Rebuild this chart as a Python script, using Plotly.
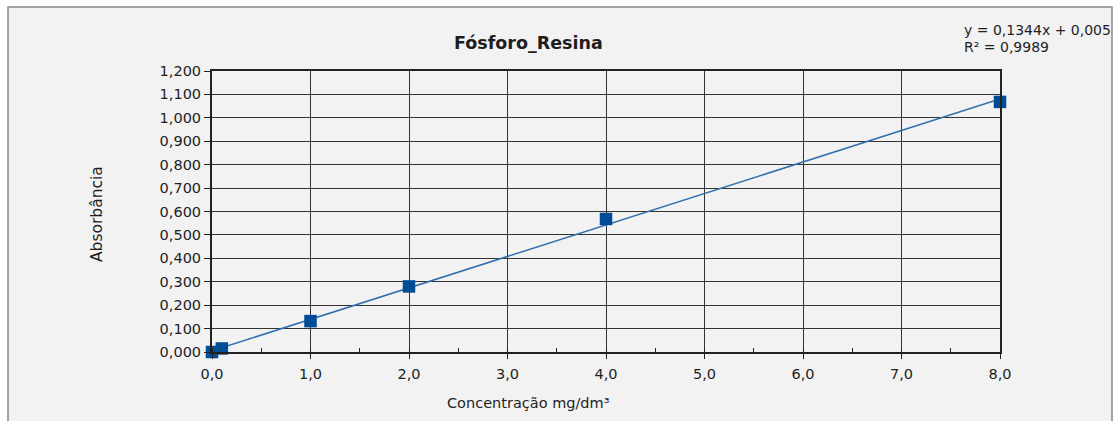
import plotly.graph_objects as go

conc = [0.0, 0.1, 1.0, 2.0, 4.0, 8.0]
absorb = [0.000, 0.015, 0.132, 0.280, 0.568, 1.068]
slope = 0.1344
intercept = 0.005
fit_x = [0.0, 8.0]
fit_y = [slope * x + intercept for x in fit_x]

title = "<b>Fósforo_Resina</b>"
eq_line1 = "y = 0,1344x + 0,005"
eq_line2 = "R² = 0,9989"
x_title = "Concentração mg/dm³"
y_title = "Absorbância"

W, H = 1115, 421
L, R, T, B = 212, 115, 71, 69
PW, PH = W - L - R, H - T - B


def px(x):
    return (x - L) / PW


def py(y):
    return (H - B - y) / PH


FONT = "DejaVu Sans"
TXT = "#1e1e1e"

fig = go.Figure()
fig.add_trace(go.Scatter(x=fit_x, y=fit_y, mode="lines",
                         line=dict(color="#2f6fad", width=1.5),
                         hoverinfo="skip", showlegend=False))
fig.add_trace(go.Scatter(x=conc, y=absorb, mode="markers",
                         marker=dict(symbol="square", size=12.5, color="#004c97"),
                         cliponaxis=False, showlegend=False))

fig.add_shape(type="rect", xref="paper", yref="paper",
              x0=px(8), x1=px(1112), y0=-0.5, y1=py(7),
              fillcolor="#f2f2f2", line=dict(color="#888888", width=1.5),
              layer="below")

fig.add_annotation(x=px(528), y=py(43), xref="paper", yref="paper",
                   text=title, showarrow=False, yanchor="middle",
                   font=dict(family=FONT, size=17.5, color=TXT))
fig.add_annotation(x=px(962), y=py(30), xref="paper", yref="paper",
                   xanchor="left", yanchor="middle",
                   text=eq_line1, showarrow=False,
                   font=dict(family=FONT, size=14, color=TXT))
fig.add_annotation(x=px(962), y=py(47), xref="paper", yref="paper",
                   xanchor="left", yanchor="middle",
                   text=eq_line2, showarrow=False,
                   font=dict(family=FONT, size=14, color=TXT))
fig.add_annotation(x=px(528), y=py(403), xref="paper", yref="paper",
                   text=x_title, showarrow=False, yanchor="middle",
                   font=dict(family=FONT, size=14.5, color=TXT))
fig.add_annotation(x=px(97), y=py(214), xref="paper", yref="paper",
                   text=y_title, showarrow=False, textangle=-90,
                   xanchor="center", yanchor="middle",
                   font=dict(family=FONT, size=15.5, color=TXT))

fig.update_layout(
    width=W, height=H,
    margin=dict(l=L, r=R, t=T, b=B),
    paper_bgcolor="white", plot_bgcolor="#d9d9d9",
    separators=",.",
    font=dict(family=FONT, size=14, color=TXT),
    xaxis=dict(range=[0, 8], dtick=1, tickformat=".1f",
               showgrid=True, gridcolor="#333333", gridwidth=1.2,
               showline=True, linecolor="#222222", linewidth=2, mirror=True,
               ticks="outside", ticklen=5, tickcolor="#222222",
               minor=dict(dtick=0.5, ticks="inside", ticklen=4, tickcolor="#222222", showgrid=False),
               zeroline=False, tickfont=dict(size=14.5), ticklabelstandoff=3),
    yaxis=dict(range=[0, 1.2], dtick=0.1, tickformat=".3f",
               showgrid=True, gridcolor="#333333", gridwidth=1.2,
               showline=True, linecolor="#222222", linewidth=2, mirror=True,
               ticks="outside", ticklen=6, tickcolor="#222222",
               zeroline=False, tickfont=dict(size=14.5)),
)

fig.write_html("out.html")
